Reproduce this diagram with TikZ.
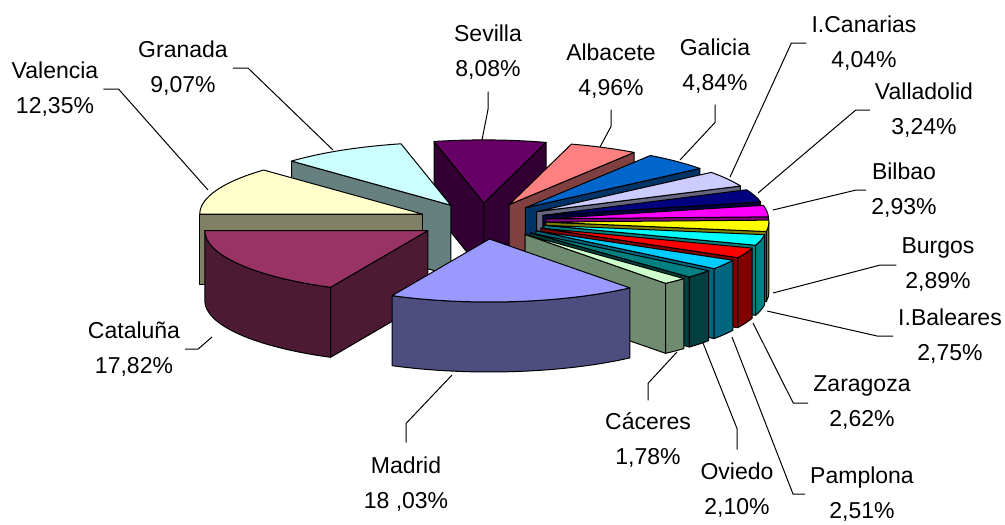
\documentclass[tikz,border=0pt]{standalone}
\usepackage{fontspec}
\setmainfont{Liberation Sans}

% colours of the slices
\definecolor{madtop}{HTML}{9999FF}\definecolor{madside}{HTML}{4D4D80}
\definecolor{cattop}{HTML}{993366}\definecolor{catside}{HTML}{4D1A33}
\definecolor{valtop}{HTML}{FFFFCC}\definecolor{valwall}{HTML}{808066}
\definecolor{gratop}{HTML}{CCFFFF}\definecolor{grawall}{HTML}{668080}
\definecolor{sevtop}{HTML}{660066}\definecolor{sevwall}{HTML}{330033}
\definecolor{albtop}{HTML}{FF8080}\definecolor{albwall}{HTML}{804040}
\definecolor{galtop}{HTML}{0066CC}\definecolor{galwall}{HTML}{003366}
\definecolor{cantop}{HTML}{CCCCFF}\definecolor{canwall}{HTML}{666680}
\definecolor{vldtop}{HTML}{000080}\definecolor{vldwall}{HTML}{000040}
\definecolor{biltop}{HTML}{FF00FF}\definecolor{bilwall}{HTML}{800080}
\definecolor{burtop}{HTML}{FFFF00}\definecolor{burwall}{HTML}{808000}
\definecolor{baltop}{HTML}{00FFFF}\definecolor{balwall}{HTML}{008080}
\definecolor{zartop}{HTML}{FF0000}\definecolor{zarwall}{HTML}{800000}
\definecolor{pamtop}{HTML}{00CCFF}\definecolor{pamwall}{HTML}{006680}
\definecolor{ovitop}{HTML}{008080}\definecolor{oviwall}{HTML}{004040}
\definecolor{cactop}{HTML}{CCFFCC}\definecolor{cacwall}{HTML}{708C70}

\tikzset{
  face/.style={draw=black,line width=1pt,line join=round},
  lbl/.style={align=center,inner sep=5pt,font=\fontsize{23}{35}\selectfont},
  leader/.style={draw=black,line width=1pt},
}

% pie geometry, 1 unit = 1 px
\newcommand{\pieX}{482}
\newcommand{\pieY}{221}
\newcommand{\pieRx}{223}
\newcommand{\pieRy}{63}
\newcommand{\pieH}{70}
\newcommand{\pieEx}{64}
\newcommand{\pieEy}{18.1}

\newcommand{\slicecentre}[3]{%
  \pgfmathsetmacro{\slmid}{(#2+#3)/2}%
  \coordinate (#1) at ({\pieX+\pieEx*cos(\slmid)},{\pieY+\pieEy*sin(\slmid)});}
\newcommand{\topface}[4]{%
  \draw[face,fill=#4] (#1) -- ++({\pieRx*cos(#2)},{\pieRy*sin(#2)})
    arc[start angle=#2,end angle=#3,x radius=\pieRx,y radius=\pieRy] -- cycle;}
\newcommand{\wallface}[3]{%
  \draw[face,fill=#3] (#1) -- ++({\pieRx*cos(#2)},{\pieRy*sin(#2)}) -- ++(0,\pieH)
    -- ++({-\pieRx*cos(#2)},{-\pieRy*sin(#2)}) -- cycle;}
\newcommand{\sideface}[4]{%
  \draw[face,fill=#4] (#1) ++({\pieRx*cos(#2)},{\pieRy*sin(#2)})
    arc[start angle=#2,end angle=#3,x radius=\pieRx,y radius=\pieRy] -- ++(0,\pieH)
    arc[start angle=#3,end angle=#2,x radius=\pieRx,y radius=\pieRy] -- cycle;}

\begin{document}
\begin{tikzpicture}[x=1pt,y=-1pt]
	\useasboundingbox (0,0) rectangle (1005,525);

	% slices, back to front
	\slicecentre{sev}{257.11}{286.20}%
	\wallface{sev}{257.11}{sevwall}%
	\wallface{sev}{286.20}{sevwall}%
	\topface{sev}{257.11}{286.20}{sevtop}%

	\slicecentre{alb}{-73.80}{-55.94}%
	\wallface{alb}{-55.94}{albwall}%
	\topface{alb}{-73.80}{-55.94}{albtop}%

	\slicecentre{gra}{224.46}{257.11}%
	\wallface{gra}{224.46}{grawall}%
	\topface{gra}{224.46}{257.11}{gratop}%

	\slicecentre{gal}{-55.94}{-38.52}%
	\wallface{gal}{-38.52}{galwall}%
	\topface{gal}{-55.94}{-38.52}{galtop}%

	\slicecentre{can}{-38.52}{-23.98}%
	\wallface{can}{-23.98}{canwall}%
	\topface{can}{-38.52}{-23.98}{cantop}%

	\slicecentre{val}{180}{224.46}%
	\wallface{val}{180}{valwall}%
	\topface{val}{180}{224.46}{valtop}%

	\slicecentre{vld}{-23.98}{-12.32}%
	\wallface{vld}{-12.32}{vldwall}%
	\topface{vld}{-23.98}{-12.32}{vldtop}%

	\slicecentre{bil}{-12.32}{-1.77}%
	\wallface{bil}{-1.77}{bilwall}%
	\topface{bil}{-12.32}{-1.77}{biltop}%

	\slicecentre{bur}{-1.77}{8.63}%
	\wallface{bur}{8.63}{burwall}%
	\sideface{bur}{0}{8.63}{burwall}%
	\topface{bur}{-1.77}{8.63}{burtop}%

	\slicecentre{bal}{8.63}{18.53}%
	\wallface{bal}{18.53}{balwall}%
	\sideface{bal}{8.63}{18.53}{balwall}%
	\topface{bal}{8.63}{18.53}{baltop}%

	\slicecentre{zar}{18.53}{27.96}%
	\wallface{zar}{27.96}{zarwall}%
	\sideface{zar}{18.53}{27.96}{zarwall}%
	\topface{zar}{18.53}{27.96}{zartop}%

	\slicecentre{cat}{115.85}{180}%
	\wallface{cat}{115.85}{catside}%
	\sideface{cat}{115.85}{180}{catside}%
	\topface{cat}{115.85}{180}{cattop}%

	\slicecentre{pam}{27.96}{37.00}%
	\wallface{pam}{37.00}{pamwall}%
	\sideface{pam}{27.96}{37.00}{pamwall}%
	\topface{pam}{27.96}{37.00}{pamtop}%

	\slicecentre{ovi}{37.00}{44.56}%
	\wallface{ovi}{44.56}{oviwall}%
	\sideface{ovi}{37.00}{44.56}{oviwall}%
	\topface{ovi}{37.00}{44.56}{ovitop}%

	\slicecentre{cac}{44.56}{50.94}%
	\wallface{cac}{50.94}{cacwall}%
	\sideface{cac}{44.56}{50.94}{cacwall}%
	\topface{cac}{44.56}{50.94}{cactop}%

	\slicecentre{mad}{50.94}{115.85}%
	\sideface{mad}{50.94}{115.85}{madside}%
	\topface{mad}{50.94}{115.85}{madtop}%

	% labels
	\node[lbl] (valencia) at (55,89) {Valencia\\12,35\%};%
	\node[lbl] (granada) at (183,68) {Granada\\9,07\%};%
	\node[lbl] (sevilla) at (488,52) {Sevilla\\8,08\%};%
	\node[lbl] (albacete) at (611,71) {Albacete\\4,96\%};%
	\node[lbl] (galicia) at (715,66) {Galicia\\4,84\%};%
	\node[lbl] (canarias) at (864,43) {I.Canarias\\4,04\%};%
	\node[lbl] (valladolid) at (924,110) {Valladolid\\3,24\%};%
	\node[lbl] (bilbao) at (904,190) {Bilbao\\2,93\%};%
	\node[lbl] (burgos) at (938,265) {Burgos\\2,89\%};%
	\node[lbl] (baleares) at (950,336) {I.Baleares\\2,75\%};%
	\node[lbl] (zaragoza) at (862,403) {Zaragoza\\2,62\%};%
	\node[lbl] (pamplona) at (862,494) {Pamplona\\2,51\%};%
	\node[lbl] (oviedo) at (737,490) {Oviedo\\2,10\%};%
	\node[lbl] (caceres) at (648,440) {Cáceres\\1,78\%};%
	\node[lbl] (madrid) at (406,484) {Madrid\\18 ,03\%};%
	\node[lbl] (cataluna) at (134,349) {Cataluña\\17,82\%};%

	% leaders
	\coordinate (valencia-tip) at (208,190);
	\coordinate (granada-tip) at (333,150);
	\coordinate (sevilla-tip) at (482,140);
	\coordinate (albacete-tip) at (600,147);
	\coordinate (galicia-tip) at (680,160);
	\coordinate (canarias-tip) at (730,177);
	\coordinate (valladolid-tip) at (758,193);
	\coordinate (bilbao-tip) at (773,210);
	\coordinate (burgos-tip) at (773,293);
	\coordinate (baleares-tip) at (767,311);
	\coordinate (zaragoza-tip) at (753,323);
	\coordinate (pamplona-tip) at (732,337);
	\coordinate (oviedo-tip) at (703,343);
	\coordinate (caceres-tip) at (677,352);
	\coordinate (madrid-tip) at (452,375);
	\coordinate (cataluna-tip) at (212,337);

	\draw[leader] (valencia.east) -- ++(15,0) -- (valencia-tip);
	\draw[leader] (granada.east) -- ++(15,0) -- (granada-tip);
	\draw[leader,shorten <=7pt] (sevilla.south) -- ++(0,25) -- (sevilla-tip);
	\draw[leader,shorten <=6pt] (albacete.south) -- ++(0,23) -- (albacete-tip);
	\draw[leader,shorten <=6pt] (galicia.south) -- ++(0,24) -- (galicia-tip);
	\draw[leader] (canarias.west) -- ++(-15,0) -- (canarias-tip);
	\draw[leader] (valladolid.west) -- ++(-14,0) -- (valladolid-tip);
	\draw[leader] (bilbao.west) -- ++(-10,0) -- (bilbao-tip);
	\draw[leader] (burgos.west) -- ++(-16,0) -- (burgos-tip);
	\draw[leader] (baleares.west) -- ++(-16,0) -- (baleares-tip);
	\draw[leader] (zaragoza.west) -- ++(-15,0) -- (zaragoza-tip);
	\draw[leader] (pamplona.west) -- ++(-12,0) -- (pamplona-tip);
	\draw[leader,shorten <=8pt] (oviedo.north) -- ++(0,-29) -- (oviedo-tip);
	\draw[leader,shorten <=7pt] (caceres.north) -- ++(0,-24) -- (caceres-tip);
	\draw[leader,shorten <=9pt] (madrid.north) -- ++(0,-28) -- (madrid-tip);
	\draw[leader] (cataluna.east) -- ++(13,0) -- (cataluna-tip);
\end{tikzpicture}
\end{document}
